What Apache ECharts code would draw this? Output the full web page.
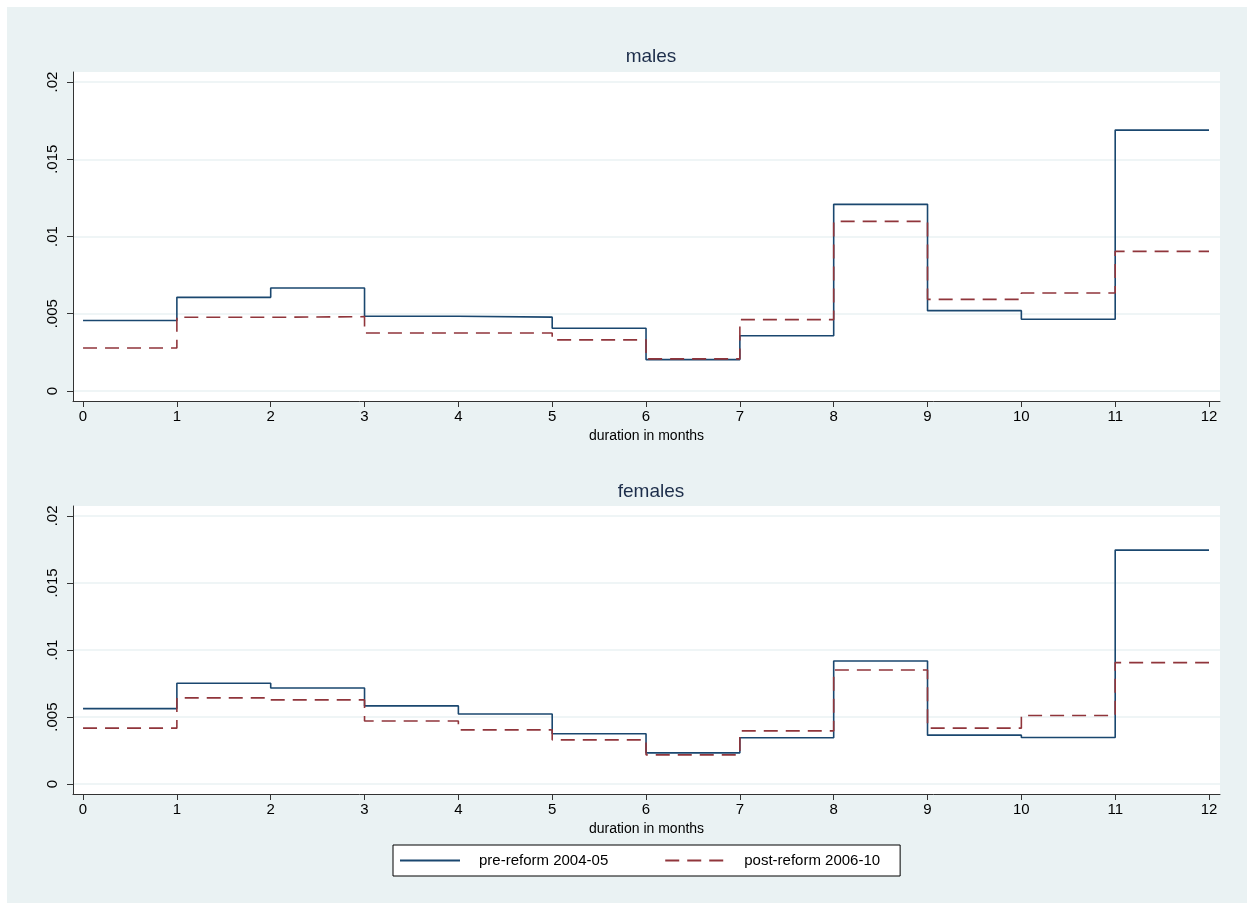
<!DOCTYPE html>
<html>
<head>
<meta charset="utf-8">
<script src="https://cdn.jsdelivr.net/npm/echarts@6/dist/echarts.min.js"></script>
<style>
  html, body { margin: 0; padding: 0; background: #fff; }
  #chart { width: 1253px; height: 911px; }
</style>
</head>
<body>
<div id="chart"></div>
<script>
// step boundaries: duration in months
const months = [0, 1, 2, 3, 4, 5, 6, 7, 8, 9, 10, 11, 12];
const yTicks = [0, 0.005, 0.01, 0.015, 0.02];

// hazard per month interval [k, k+1)
const malesPre  = [0.00456, 0.00606, 0.00667, 0.00484, 0.00478, 0.00406, 0.00203, 0.00357, 0.01208, 0.00520, 0.00464, 0.01689];
const malesPost = [0.00278, 0.00477, 0.00481, 0.00375, 0.00375, 0.00331, 0.00208, 0.00462, 0.01098, 0.00593, 0.00634, 0.00904];
const femalesPre  = [0.00563, 0.00752, 0.00717, 0.00583, 0.00523, 0.00375, 0.00233, 0.00345, 0.00918, 0.00365, 0.00347, 0.01745];
const femalesPost = [0.00417, 0.00643, 0.00628, 0.00471, 0.00404, 0.00330, 0.00218, 0.00397, 0.00851, 0.00417, 0.00511, 0.00906];

const NAVY = '#1a476f';
const MAROON = '#90353b';
const FONT = 'Liberation Sans, Arial, sans-serif';

// repeat the last value so the final step reaches month 12
function steps(vals) {
  return months.map((m, i) => [m, vals[Math.min(i, vals.length - 1)]]);
}

function fmtY(v) {
  if (v === 0) return '0';
  return String(+v.toFixed(3)).replace(/^0/, '');
}

function xAxis(gridIndex) {
  return {
    type: 'value', gridIndex,
    min: -0.107, max: 12.117,
    name: 'duration in months', nameLocation: 'middle', nameGap: 28,
    nameTextStyle: { fontFamily: FONT, fontSize: 14, color: '#000' },
    axisLine: { show: true, onZero: false, lineStyle: { color: '#333', width: 1 } },
    axisTick: { show: true, length: 6, customValues: months, lineStyle: { color: '#333' } },
    axisLabel: { customValues: months, fontFamily: FONT, fontSize: 15, color: '#000', margin: 8 },
    splitLine: { show: false }
  };
}

function yAxis(gridIndex, pad) {
  return {
    type: 'value', gridIndex,
    min: -pad, max: 0.02 + pad,
    axisLine: { show: true, onZero: false, lineStyle: { color: '#333', width: 1 } },
    axisTick: { show: true, length: 6, customValues: yTicks, lineStyle: { color: '#333' } },
    axisLabel: {
      customValues: yTicks, rotate: 90, margin: 13,
      fontFamily: FONT, fontSize: 15, color: '#000',
      formatter: fmtY
    },
    splitLine: { show: true, lineStyle: { color: '#eaf2f3', width: 1.5 } }
  };
}

const chart = echarts.init(document.getElementById('chart'), null, { renderer: 'canvas' });

chart.setOption({
  backgroundColor: '#fff',
  animation: false,
  graphic: [{
    type: 'rect', z: -10, silent: true,
    shape: { x: 7, y: 7, width: 1240, height: 896 },
    style: { fill: '#eaf2f3' }
  }],
  title: [
    { text: 'males', left: 646, top: 42, textAlign: 'center',
      textStyle: { fontFamily: FONT, fontSize: 19, fontWeight: 'normal', color: '#1c2d4a' } },
    { text: 'females', left: 646, top: 477, textAlign: 'center',
      textStyle: { fontFamily: FONT, fontSize: 19, fontWeight: 'normal', color: '#1c2d4a' } }
  ],
  grid: [
    { left: 73, right: 33, top: 72, height: 329, show: true, backgroundColor: '#fff', borderWidth: 0 },
    { left: 73, right: 33, top: 506, height: 288, show: true, backgroundColor: '#fff', borderWidth: 0 }
  ],
  xAxis: [xAxis(0), xAxis(1)],
  yAxis: [yAxis(0, 0.00065), yAxis(1, 0.00074)],
  legend: {
    left: 393, top: 845,
    padding: [8, 20, 8, 6],
    itemWidth: 60, itemHeight: 14, itemGap: 56,
    itemStyle: { opacity: 0 },
    borderColor: '#000', borderWidth: 1, backgroundColor: '#fff', borderRadius: 0,
    textStyle: { fontFamily: FONT, fontSize: 15, color: '#000', padding: [0, 0, 0, 14] },
    data: ['pre-reform 2004-05', 'post-reform 2006-10']
  },
  series: [
    { name: 'pre-reform 2004-05', type: 'line', step: 'end', symbol: 'none',
      xAxisIndex: 0, yAxisIndex: 0, data: steps(malesPre),
      lineStyle: { color: NAVY, width: 1.6 }, itemStyle: { color: NAVY } },
    { name: 'post-reform 2006-10', type: 'line', step: 'end', symbol: 'none',
      xAxisIndex: 0, yAxisIndex: 0, data: steps(malesPost),
      lineStyle: { color: MAROON, width: 1.6, type: [14, 8] }, itemStyle: { color: MAROON } },
    { name: 'pre-reform 2004-05', type: 'line', step: 'end', symbol: 'none',
      xAxisIndex: 1, yAxisIndex: 1, data: steps(femalesPre),
      lineStyle: { color: NAVY, width: 1.6 }, itemStyle: { color: NAVY } },
    { name: 'post-reform 2006-10', type: 'line', step: 'end', symbol: 'none',
      xAxisIndex: 1, yAxisIndex: 1, data: steps(femalesPost),
      lineStyle: { color: MAROON, width: 1.6, type: [14, 8] }, itemStyle: { color: MAROON } }
  ]
});
</script>
</body>
</html>
